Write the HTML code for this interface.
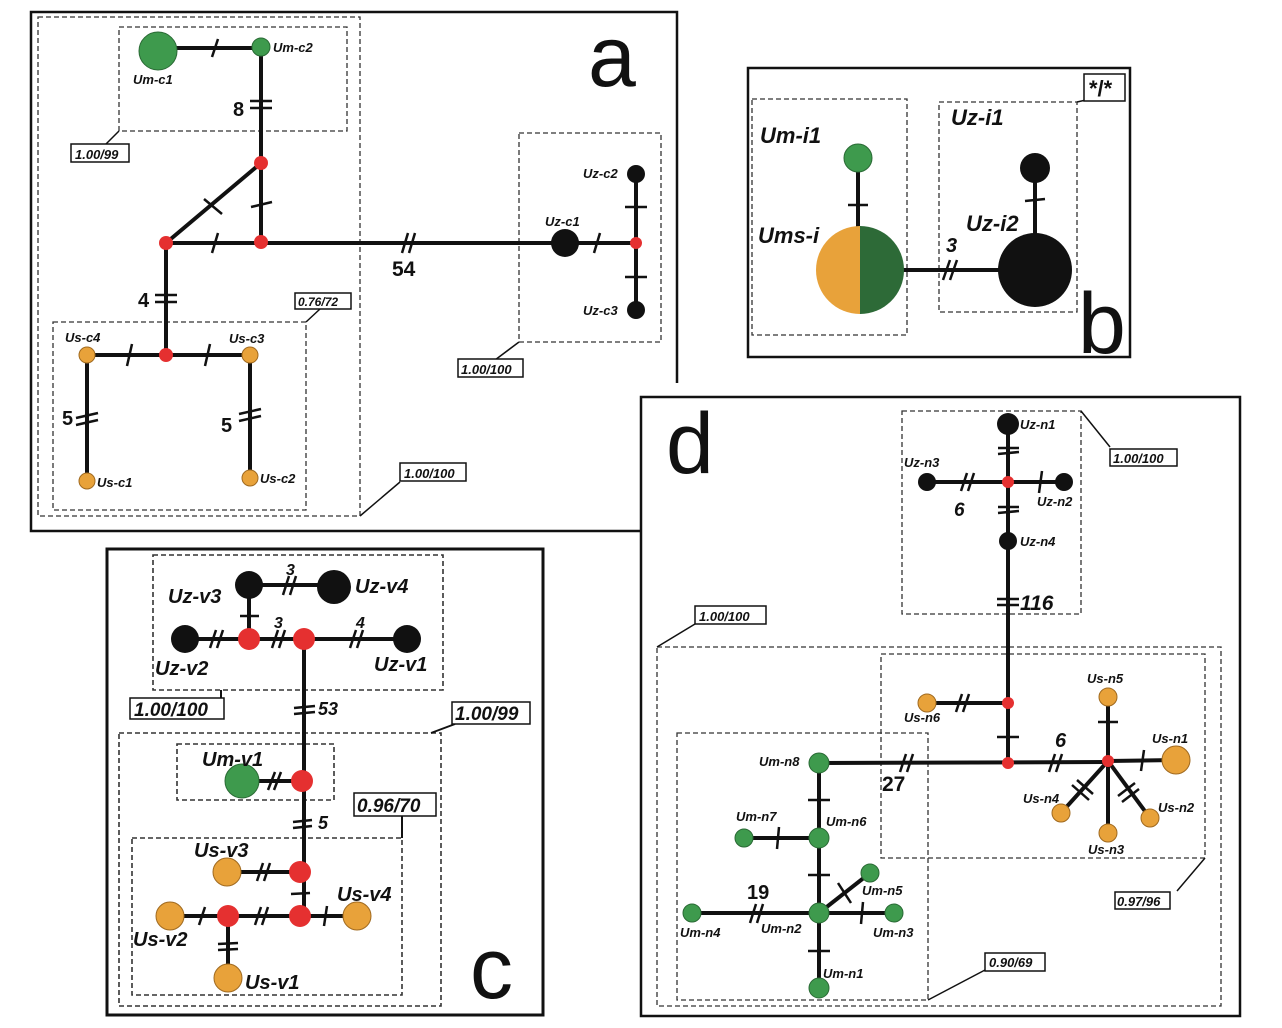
<!DOCTYPE html>
<html><head><meta charset="utf-8"><style>
html,body{margin:0;padding:0;background:#fff}
svg{display:block}
text{font-family:"Liberation Sans",sans-serif;font-weight:bold;font-style:italic;fill:#111}
.e{stroke:#111;stroke-width:4;fill:none}
.t{stroke:#111;stroke-width:2.5;fill:none}
.d{stroke:#333;stroke-width:1.3;stroke-dasharray:5,3;fill:none}
.f{stroke:#111;stroke-width:2.5;fill:none}
.lb{fill:#fff;stroke:#111;stroke-width:1.5}
.g{fill:#3e9a4d;stroke:#2a6a35;stroke-width:1}
.o{fill:#e8a23a;stroke:#a06a20;stroke-width:1}
.r{fill:#e53030}
.k{fill:#111}
.big{font-family:"Liberation Sans",sans-serif;font-style:normal;font-weight:normal;font-size:86px}
</style></head><body>
<svg width="1282" height="1028" viewBox="0 0 1282 1028">
<!-- Panel a frame -->
<polyline class="f" points="677,383 677,12 31,12 31,531 641,531"/>
<rect class="d" x="38" y="17" width="322" height="499"/>
<line class="t" x1="360" y1="516" x2="400" y2="482" style="stroke-width:1.5"/>
<rect class="lb" x="400" y="463" width="66" height="18"/><text x="404" y="478" font-size="13">1.00/100</text>
<rect class="d" x="119" y="27" width="228" height="104"/>
<line class="t" x1="119" y1="131" x2="105" y2="145" style="stroke-width:1.5"/>
<rect class="lb" x="71" y="144" width="58" height="18"/><text x="75" y="159" font-size="13">1.00/99</text>
<rect class="d" x="519" y="133" width="142" height="209"/>
<line class="t" x1="519" y1="342" x2="495" y2="360" style="stroke-width:1.5"/>
<rect class="lb" x="458" y="359" width="65" height="18"/><text x="461" y="374" font-size="13">1.00/100</text>
<rect class="d" x="53" y="322" width="253" height="188"/>
<line class="t" x1="306" y1="322" x2="320" y2="309" style="stroke-width:1.5"/>
<rect class="lb" x="295" y="293" width="56" height="16"/><text x="298" y="306" font-size="12">0.76/72</text>
<text class="big" x="588" y="86">a</text>
<!-- edges a -->
<line class="e" x1="158" y1="48" x2="261" y2="48"/><line class="t" x1="212" y1="57" x2="218" y2="39"/>
<line class="e" x1="261" y1="48" x2="261" y2="243"/>
<line class="t" x1="250" y1="101" x2="272" y2="101"/><line class="t" x1="250" y1="108" x2="272" y2="108"/>
<text x="233" y="116" font-size="20" style="font-style:normal">8</text>
<line class="e" x1="166" y1="243" x2="261" y2="163"/><line class="t" x1="204" y1="199" x2="222" y2="214"/>
<line class="t" x1="251" y1="207" x2="272" y2="202"/>
<line class="e" x1="166" y1="243" x2="636" y2="243"/><line class="t" x1="212" y1="253" x2="218" y2="233"/>
<line class="t" x1="402" y1="253" x2="408" y2="233"/><line class="t" x1="409" y1="253" x2="415" y2="233"/>
<text x="392" y="276" font-size="21" style="font-style:normal">54</text>
<line class="t" x1="594" y1="253" x2="600" y2="233"/>
<line class="e" x1="636" y1="174" x2="636" y2="310"/>
<line class="t" x1="625" y1="207" x2="647" y2="207"/><line class="t" x1="625" y1="277" x2="647" y2="277"/>
<line class="e" x1="166" y1="243" x2="166" y2="355"/>
<line class="t" x1="155" y1="295" x2="177" y2="295"/><line class="t" x1="155" y1="302" x2="177" y2="302"/>
<text x="138" y="307" font-size="20" style="font-style:normal">4</text>
<line class="e" x1="87" y1="355" x2="250" y2="355"/>
<line class="t" x1="127" y1="366" x2="132" y2="344"/><line class="t" x1="205" y1="366" x2="210" y2="344"/>
<line class="e" x1="87" y1="355" x2="87" y2="481"/><line class="e" x1="250" y1="355" x2="250" y2="478"/>
<line class="t" x1="76" y1="418" x2="98" y2="413"/><line class="t" x1="76" y1="425" x2="98" y2="420"/>
<line class="t" x1="239" y1="414" x2="261" y2="409"/><line class="t" x1="239" y1="421" x2="261" y2="416"/>
<text x="62" y="425" font-size="20" style="font-style:normal">5</text>
<text x="221" y="432" font-size="20" style="font-style:normal">5</text>
<!-- nodes a -->
<circle class="g" cx="158" cy="51" r="19"/><circle class="g" cx="261" cy="47" r="9"/>
<circle class="r" cx="261" cy="163" r="7"/><circle class="r" cx="166" cy="243" r="7"/><circle class="r" cx="261" cy="242" r="7"/>
<circle class="k" cx="565" cy="243" r="14"/><circle class="r" cx="636" cy="243" r="6"/>
<circle class="k" cx="636" cy="174" r="9"/><circle class="k" cx="636" cy="310" r="9"/>
<circle class="r" cx="166" cy="355" r="7"/>
<circle class="o" cx="87" cy="355" r="8"/><circle class="o" cx="250" cy="355" r="8"/>
<circle class="o" cx="87" cy="481" r="8"/><circle class="o" cx="250" cy="478" r="8"/>
<g font-size="13">
<text x="133" y="84">Um-c1</text><text x="273" y="52">Um-c2</text>
<text x="583" y="178">Uz-c2</text><text x="545" y="226">Uz-c1</text><text x="583" y="315">Uz-c3</text>
<text x="65" y="342">Us-c4</text><text x="229" y="343">Us-c3</text>
<text x="97" y="487">Us-c1</text><text x="260" y="483">Us-c2</text>
</g>

<!-- Panel b -->
<rect class="f" x="748" y="68" width="382" height="289"/>
<rect class="d" x="752" y="99" width="155" height="236"/>
<rect class="d" x="939" y="102" width="138" height="210"/>
<line class="t" x1="1077" y1="102" x2="1086" y2="100" style="stroke-width:1.5"/>
<rect class="lb" x="1084" y="74" width="41" height="27"/><text x="1089" y="96" font-size="22" style="font-style:normal">*/*</text>
<line class="e" x1="858" y1="158" x2="858" y2="230"/><line class="t" x1="848" y1="205" x2="868" y2="205"/>
<line class="e" x1="900" y1="270" x2="1000" y2="270"/>
<line class="t" x1="943" y1="280" x2="950" y2="260"/><line class="t" x1="950" y1="280" x2="957" y2="260"/>
<text x="946" y="252" font-size="20">3</text>
<line class="e" x1="1035" y1="168" x2="1035" y2="240"/><line class="t" x1="1025" y1="201" x2="1045" y2="199"/>
<circle class="g" cx="858" cy="158" r="14"/>
<path d="M860,226 A44,44 0 0 0 860,314 Z" fill="#e8a23a"/>
<path d="M860,226 A44,44 0 0 1 860,314 Z" fill="#2d6a37"/>
<circle class="k" cx="1035" cy="270" r="37"/><circle class="k" cx="1035" cy="168" r="15"/>
<g font-size="22">
<text x="760" y="143">Um-i1</text><text x="758" y="243">Ums-i</text>
<text x="951" y="125">Uz-i1</text><text x="966" y="231">Uz-i2</text>
</g>
<text class="big" x="1078" y="353">b</text>

<!-- Panel c -->
<rect class="f" x="107" y="549" width="436" height="466" style="stroke-width:3"/>
<rect class="d" x="153" y="555" width="290" height="135" style="stroke-width:1.6"/>
<polyline class="t" points="221,690 221,699" style="stroke-width:2"/>
<rect class="lb" x="130" y="698" width="94" height="21"/><text x="134" y="716" font-size="19">1.00/100</text>
<rect class="d" x="119" y="733" width="322" height="273" style="stroke-width:1.6"/>
<line class="t" x1="431" y1="733" x2="455" y2="724" style="stroke-width:2"/>
<rect class="lb" x="452" y="702" width="78" height="22"/><text x="455" y="720" font-size="19">1.00/99</text>
<rect class="d" x="177" y="744" width="157" height="56" style="stroke-width:1.6"/>
<rect class="d" x="132" y="838" width="270" height="157" style="stroke-width:1.6"/>
<line class="t" x1="402" y1="838" x2="402" y2="816" style="stroke-width:2"/>
<rect class="lb" x="354" y="793" width="82" height="23"/><text x="357" y="812" font-size="19">0.96/70</text>
<line class="e" x1="249" y1="585" x2="334" y2="585"/>
<line class="t" x1="283" y1="595" x2="289" y2="576"/><line class="t" x1="290" y1="595" x2="296" y2="576"/>
<text x="286" y="575" font-size="16">3</text>
<line class="e" x1="249" y1="585" x2="249" y2="639"/><line class="t" x1="240" y1="616" x2="259" y2="616"/>
<line class="e" x1="185" y1="639" x2="407" y2="639"/>
<line class="t" x1="210" y1="648" x2="216" y2="630"/><line class="t" x1="217" y1="648" x2="223" y2="630"/>
<line class="t" x1="272" y1="648" x2="278" y2="630"/><line class="t" x1="279" y1="648" x2="285" y2="630"/>
<text x="274" y="628" font-size="16">3</text>
<line class="t" x1="350" y1="648" x2="356" y2="630"/><line class="t" x1="357" y1="648" x2="363" y2="630"/>
<text x="356" y="628" font-size="16">4</text>
<line class="e" x1="304" y1="639" x2="304" y2="916"/>
<line class="t" x1="294" y1="708" x2="315" y2="706"/><line class="t" x1="294" y1="714" x2="315" y2="712"/>
<text x="318" y="715" font-size="18">53</text>
<line class="e" x1="242" y1="781" x2="302" y2="781"/>
<line class="t" x1="268" y1="790" x2="275" y2="772"/><line class="t" x1="274" y1="790" x2="281" y2="772"/>
<line class="t" x1="293" y1="822" x2="312" y2="820"/><line class="t" x1="293" y1="828" x2="312" y2="826"/>
<text x="318" y="829" font-size="18">5</text>
<line class="e" x1="227" y1="872" x2="300" y2="872"/>
<line class="t" x1="257" y1="881" x2="263" y2="863"/><line class="t" x1="264" y1="881" x2="270" y2="863"/>
<line class="t" x1="291" y1="894" x2="310" y2="893"/>
<line class="e" x1="170" y1="916" x2="357" y2="916"/>
<line class="t" x1="199" y1="925" x2="205" y2="907"/>
<line class="t" x1="255" y1="925" x2="261" y2="907"/><line class="t" x1="262" y1="925" x2="268" y2="907"/>
<line class="t" x1="324" y1="926" x2="327" y2="906"/>
<line class="e" x1="228" y1="916" x2="228" y2="978"/>
<line class="t" x1="218" y1="944" x2="238" y2="943"/><line class="t" x1="218" y1="950" x2="238" y2="949"/>
<circle class="k" cx="249" cy="585" r="14"/><circle class="k" cx="334" cy="587" r="17"/>
<circle class="k" cx="185" cy="639" r="14"/><circle class="k" cx="407" cy="639" r="14"/>
<circle class="r" cx="249" cy="639" r="11"/><circle class="r" cx="304" cy="639" r="11"/>
<circle class="g" cx="242" cy="781" r="17"/><circle class="r" cx="302" cy="781" r="11"/>
<circle class="r" cx="300" cy="872" r="11"/><circle class="r" cx="300" cy="916" r="11"/><circle class="r" cx="228" cy="916" r="11"/>
<circle class="o" cx="227" cy="872" r="14"/><circle class="o" cx="170" cy="916" r="14"/>
<circle class="o" cx="357" cy="916" r="14"/><circle class="o" cx="228" cy="978" r="14"/>
<g font-size="20">
<text x="168" y="603">Uz-v3</text><text x="355" y="593">Uz-v4</text>
<text x="155" y="675">Uz-v2</text><text x="374" y="671">Uz-v1</text>
<text x="202" y="766">Um-v1</text>
<text x="194" y="857">Us-v3</text><text x="337" y="901">Us-v4</text>
<text x="133" y="946">Us-v2</text><text x="245" y="989">Us-v1</text>
</g>
<text class="big" x="470" y="998">c</text>

<!-- Panel d -->
<rect class="f" x="641" y="397" width="599" height="619"/>
<text class="big" x="666" y="473">d</text>
<rect class="d" x="902" y="411" width="179" height="203"/>
<line class="t" x1="1081" y1="411" x2="1110" y2="447" style="stroke-width:1.5"/>
<rect class="lb" x="1110" y="449" width="67" height="17"/><text x="1113" y="463" font-size="13">1.00/100</text>
<rect class="d" x="657" y="647" width="564" height="359"/>
<line class="t" x1="657" y1="647" x2="695" y2="624" style="stroke-width:1.5"/>
<rect class="lb" x="695" y="606" width="71" height="18"/><text x="699" y="621" font-size="13">1.00/100</text>
<rect class="d" x="881" y="654" width="324" height="204"/>
<line class="t" x1="1205" y1="858" x2="1177" y2="891" style="stroke-width:1.5"/>
<rect class="lb" x="1115" y="892" width="55" height="17"/><text x="1117" y="906" font-size="13">0.97/96</text>
<rect class="d" x="677" y="733" width="251" height="267"/>
<line class="t" x1="928" y1="1000" x2="985" y2="970" style="stroke-width:1.5"/>
<rect class="lb" x="985" y="953" width="60" height="18"/><text x="989" y="967" font-size="13">0.90/69</text>
<line class="e" x1="1008" y1="424" x2="1008" y2="763"/>
<line class="t" x1="998" y1="448" x2="1019" y2="448"/><line class="t" x1="998" y1="454" x2="1019" y2="452"/>
<line class="t" x1="998" y1="507" x2="1019" y2="507"/><line class="t" x1="998" y1="513" x2="1019" y2="511"/>
<line class="e" x1="927" y1="482" x2="1064" y2="482"/>
<line class="t" x1="961" y1="491" x2="967" y2="473"/><line class="t" x1="968" y1="491" x2="974" y2="473"/>
<text x="954" y="516" font-size="19">6</text>
<line class="t" x1="1039" y1="493" x2="1042" y2="471"/>
<line class="t" x1="997" y1="599" x2="1019" y2="599"/><line class="t" x1="997" y1="605" x2="1019" y2="605"/>
<text x="1020" y="610" font-size="21">116</text>
<line class="e" x1="927" y1="703" x2="1008" y2="703"/>
<line class="t" x1="956" y1="712" x2="962" y2="694"/><line class="t" x1="963" y1="712" x2="969" y2="694"/>
<line class="t" x1="997" y1="737" x2="1019" y2="737"/>
<line class="e" x1="819" y1="763" x2="1108" y2="762"/>
<line class="t" x1="900" y1="772" x2="906" y2="754"/><line class="t" x1="907" y1="772" x2="913" y2="754"/>
<text x="882" y="791" font-size="21" style="font-style:normal">27</text>
<line class="t" x1="1049" y1="772" x2="1055" y2="754"/><line class="t" x1="1056" y1="772" x2="1062" y2="754"/>
<text x="1055" y="747" font-size="20">6</text>
<line class="e" x1="1108" y1="761" x2="1176" y2="760"/><line class="t" x1="1141" y1="771" x2="1144" y2="750"/>
<line class="e" x1="1108" y1="697" x2="1108" y2="833"/><line class="t" x1="1098" y1="722" x2="1118" y2="722"/>
<line class="e" x1="1108" y1="761" x2="1061" y2="813"/>
<line class="t" x1="1072" y1="785" x2="1089" y2="800"/><line class="t" x1="1077" y1="780" x2="1093" y2="794"/>
<line class="e" x1="1108" y1="761" x2="1150" y2="818"/>
<line class="t" x1="1118" y1="796" x2="1135" y2="783"/><line class="t" x1="1122" y1="802" x2="1139" y2="789"/>
<line class="e" x1="819" y1="763" x2="819" y2="988"/>
<line class="t" x1="808" y1="800" x2="830" y2="800"/><line class="t" x1="808" y1="875" x2="830" y2="875"/><line class="t" x1="808" y1="951" x2="830" y2="951"/>
<line class="e" x1="744" y1="838" x2="819" y2="838"/><line class="t" x1="777" y1="849" x2="779" y2="827"/>
<line class="e" x1="692" y1="913" x2="894" y2="913"/>
<line class="t" x1="750" y1="923" x2="756" y2="904"/><line class="t" x1="757" y1="923" x2="763" y2="904"/>
<text x="747" y="899" font-size="20" style="font-style:normal">19</text>
<line class="t" x1="861" y1="924" x2="863" y2="902"/>
<line class="e" x1="819" y1="913" x2="870" y2="873"/><line class="t" x1="838" y1="883" x2="851" y2="903"/>
<circle class="k" cx="1008" cy="424" r="11"/><circle class="r" cx="1008" cy="482" r="6"/>
<circle class="k" cx="927" cy="482" r="9"/><circle class="k" cx="1064" cy="482" r="9"/>
<circle class="k" cx="1008" cy="541" r="9"/>
<circle class="r" cx="1008" cy="703" r="6"/><circle class="r" cx="1008" cy="763" r="6"/><circle class="r" cx="1108" cy="761" r="6"/>
<circle class="o" cx="927" cy="703" r="9"/><circle class="o" cx="1176" cy="760" r="14"/>
<circle class="o" cx="1108" cy="697" r="9"/><circle class="o" cx="1108" cy="833" r="9"/>
<circle class="o" cx="1061" cy="813" r="9"/><circle class="o" cx="1150" cy="818" r="9"/>
<circle class="g" cx="819" cy="763" r="10"/><circle class="g" cx="819" cy="838" r="10"/><circle class="g" cx="744" cy="838" r="9"/>
<circle class="g" cx="819" cy="913" r="10"/><circle class="g" cx="870" cy="873" r="9"/><circle class="g" cx="894" cy="913" r="9"/>
<circle class="g" cx="692" cy="913" r="9"/><circle class="g" cx="819" cy="988" r="10"/>
<g font-size="13">
<text x="1020" y="429">Uz-n1</text><text x="904" y="467">Uz-n3</text><text x="1037" y="506">Uz-n2</text><text x="1020" y="546">Uz-n4</text>
<text x="904" y="722">Us-n6</text><text x="1087" y="683">Us-n5</text><text x="1152" y="743">Us-n1</text>
<text x="1023" y="803">Us-n4</text><text x="1158" y="812">Us-n2</text><text x="1088" y="854">Us-n3</text>
<text x="759" y="766">Um-n8</text><text x="736" y="821">Um-n7</text><text x="826" y="826">Um-n6</text>
<text x="862" y="895">Um-n5</text><text x="761" y="933">Um-n2</text><text x="680" y="937">Um-n4</text>
<text x="873" y="937">Um-n3</text><text x="823" y="978">Um-n1</text>
</g>
</svg>
</body></html>
